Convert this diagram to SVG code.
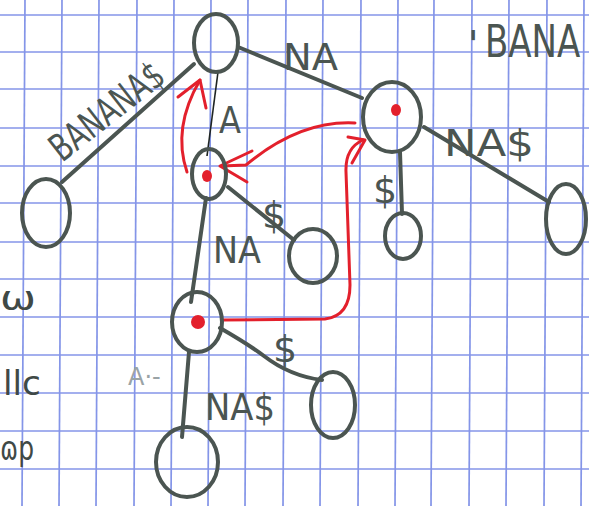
<svg xmlns="http://www.w3.org/2000/svg" width="589" height="506" viewBox="0 0 589 506">
<style>
.grid line{stroke:#8495e8;stroke-width:1.7}
.pen{fill:none;stroke:#4b5551;stroke-width:4;stroke-linecap:round;stroke-linejoin:round}
.thin{fill:none;stroke:#1e2422;stroke-width:1.6}
.red{fill:none;stroke:#e3202c;stroke-width:3;stroke-linecap:round;stroke-linejoin:round}
.dot{fill:#e3202c}
.lbl{font-family:"DejaVu Sans","Liberation Sans",sans-serif;fill:#4b5551;font-size:38px}
.side{font-family:"DejaVu Sans","Liberation Sans",sans-serif;fill:#3f4946;font-size:34px}
</style>
<rect width="589" height="506" fill="#ffffff"/>
<g class="grid">
<line x1="25" y1="0" x2="22" y2="506"/><line x1="62" y1="0" x2="59" y2="506"/><line x1="99" y1="0" x2="96" y2="506"/><line x1="137" y1="0" x2="134" y2="506"/><line x1="174" y1="0" x2="171" y2="506"/><line x1="211" y1="0" x2="208" y2="506"/><line x1="248" y1="0" x2="245" y2="506"/><line x1="286" y1="0" x2="283" y2="506"/><line x1="323" y1="0" x2="320" y2="506"/><line x1="361" y1="0" x2="358" y2="506"/><line x1="398" y1="0" x2="395" y2="506"/><line x1="434" y1="0" x2="431" y2="506"/><line x1="472" y1="0" x2="469" y2="506"/><line x1="509" y1="0" x2="506" y2="506"/><line x1="547" y1="0" x2="544" y2="506"/><line x1="584" y1="0" x2="581" y2="506"/>
<line x1="0" y1="15" x2="589" y2="15"/><line x1="0" y1="52" x2="589" y2="52"/><line x1="0" y1="89" x2="589" y2="89"/><line x1="0" y1="128" x2="589" y2="128"/><line x1="0" y1="166" x2="589" y2="166"/><line x1="0" y1="203" x2="589" y2="203"/><line x1="0" y1="242" x2="589" y2="242"/><line x1="0" y1="279" x2="589" y2="279"/><line x1="0" y1="317" x2="589" y2="317"/><line x1="0" y1="355" x2="589" y2="355"/><line x1="0" y1="393" x2="589" y2="393"/><line x1="0" y1="431" x2="589" y2="431"/><line x1="0" y1="469" x2="589" y2="469"/>
</g>
<g id="connectors">
<line class="pen" x1="194" y1="64" x2="62" y2="182"/>
<line class="pen" x1="238" y1="47" x2="362" y2="98"/>
<line class="thin" x1="218" y1="72" x2="207" y2="156"/>
<line class="pen" x1="206" y1="198" x2="191" y2="302"/>
<line class="pen" x1="228" y1="187" x2="294" y2="240"/>
<line class="pen" x1="400" y1="152" x2="402" y2="214"/>
<line class="pen" x1="424" y1="127" x2="549" y2="202"/>
<line class="pen" x1="189" y1="352" x2="182" y2="437"/>
<path class="pen" d="M220 328 Q248 344 264 356 Q290 376 322 380"/>
<text class="lbl" transform="translate(62,163) rotate(-38)" textLength="134" lengthAdjust="spacingAndGlyphs">BANANA$</text>
<text class="lbl" x="283" y="70" textLength="55" lengthAdjust="spacingAndGlyphs">NA</text>
<text class="lbl" x="219" y="133" textLength="22" lengthAdjust="spacingAndGlyphs">A</text>
<text class="lbl" x="213" y="263" textLength="48" lengthAdjust="spacingAndGlyphs">NA</text>
<text class="lbl" x="262" y="228">$</text>
<text class="lbl" x="373" y="203">$</text>
<text class="lbl" x="444" y="156" textLength="90" lengthAdjust="spacingAndGlyphs">NA$</text>
<text class="lbl" x="205" y="420" textLength="70" lengthAdjust="spacingAndGlyphs">NA$</text>
<text class="lbl" x="273" y="362">$</text>
<path class="red" d="M187 172 Q172 128 200 80"/>
<path class="red" d="M178 97 L200 80 L206 108"/>
<path class="red" d="M355 123 Q300 120 246 165 L222 166"/>
<path class="red" d="M252 151 L220 166 L247 182"/>
<path class="red" d="M222 320 L325 319 Q350 316 350 285 L346 172 Q345 148 363 140"/>
<path class="red" d="M348 137 L365 140 L352 163"/>
</g>
<g id="root"><ellipse class="pen" cx="216" cy="43" rx="22" ry="29"/></g>
<g id="leaf-banana"><ellipse class="pen" cx="46" cy="213" rx="24" ry="34"/></g>
<g id="node-a"><ellipse class="pen" cx="209" cy="174" rx="17" ry="25"/><ellipse class="dot" cx="207" cy="176" rx="5" ry="6"/></g>
<g id="node-na"><ellipse class="pen" cx="392" cy="117" rx="29" ry="35"/><ellipse class="dot" cx="396" cy="110" rx="5" ry="6"/></g>
<g id="leaf-na-dollar"><ellipse class="pen" cx="403" cy="236" rx="18" ry="23"/></g>
<g id="leaf-nana"><ellipse class="pen" cx="566" cy="219" rx="20" ry="35"/></g>
<g id="leaf-a-dollar"><ellipse class="pen" cx="313" cy="256" rx="24" ry="27"/></g>
<g id="node-ana"><ellipse class="pen" cx="197" cy="322" rx="25" ry="30"/><ellipse class="dot" cx="198" cy="322" rx="7" ry="7"/></g>
<g id="leaf-ana-dollar"><ellipse class="pen" cx="333" cy="405" rx="22" ry="33"/></g>
<g id="leaf-anana"><ellipse class="pen" cx="187" cy="462" rx="31" ry="35"/></g>
<g id="notes">
<text class="lbl" x="468" y="57" font-size="46">'</text>
<text class="lbl" transform="translate(485,57) scale(1,1.3)" style="font-size:34px">BANA</text>
<text class="side" x="0" y="310" textLength="36" lengthAdjust="spacingAndGlyphs">ω</text>
<text class="side" x="3" y="395" textLength="38" lengthAdjust="spacingAndGlyphs">llc</text>
<text class="side" x="0" y="460" textLength="34" lengthAdjust="spacingAndGlyphs">ɷp</text>
<text x="128" y="385" font-family="DejaVu Sans, sans-serif" font-size="24" fill="#9aa3a6">A·-</text>
</g>
</svg>
